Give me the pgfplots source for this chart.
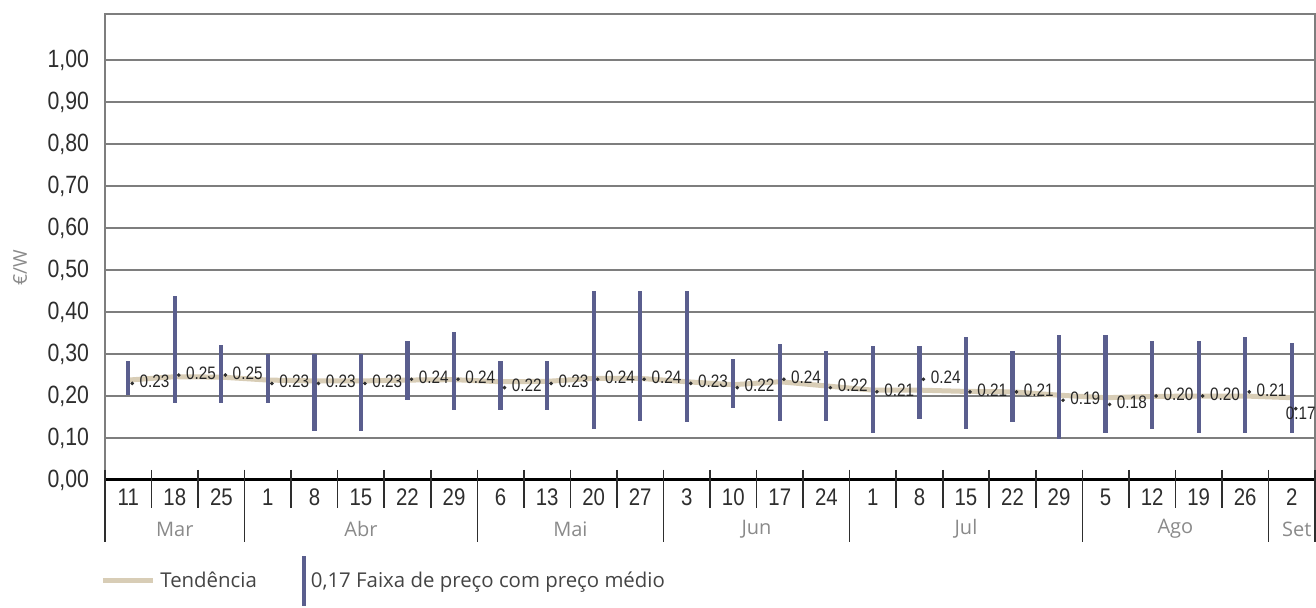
\documentclass[border=0pt]{standalone}
\usepackage{pgfplots}
\pgfplotsset{compat=1.18}
\usepackage{pgfplotstable}
\usepackage{fontspec}
\setmainfont{Open Sans}
\newfontfamily\tickfont[FakeStretch=0.85]{Liberation Sans}

\definecolor{gridc}{HTML}{7E7E7E}
\definecolor{barc}{HTML}{5A5E8E}
\definecolor{trendc}{HTML}{D8CDB6}
\definecolor{ticktext}{HTML}{2E2E2E}
\definecolor{monthc}{HTML}{8A8A8A}
\definecolor{legtext}{HTML}{444444}

% week index, mean price, low, high (EUR/W)
\pgfplotstableread{
x  mean lo    hi
0  0.23 0.202 0.283
1  0.25 0.183 0.439
2  0.25 0.183 0.321
3  0.23 0.183 0.300
4  0.23 0.117 0.300
5  0.23 0.117 0.300
6  0.24 0.191 0.330
7  0.24 0.167 0.353
8  0.22 0.167 0.283
9  0.23 0.167 0.283
10 0.24 0.121 0.450
11 0.24 0.141 0.450
12 0.23 0.138 0.450
13 0.22 0.171 0.288
14 0.24 0.141 0.324
15 0.22 0.141 0.308
16 0.21 0.113 0.320
17 0.24 0.145 0.320
18 0.21 0.121 0.340
19 0.21 0.138 0.308
20 0.19 0.098 0.345
21 0.18 0.112 0.345
22 0.20 0.121 0.330
23 0.20 0.112 0.330
24 0.21 0.112 0.340
25 0.17 0.112 0.326
}\prices

% trend line
\pgfplotstableread{
x  t
0  0.238
1  0.246
2  0.245
3  0.238
4  0.236
5  0.236
6  0.238
7  0.239
8  0.234
9  0.235
10 0.242
11 0.242
12 0.234
13 0.227
14 0.234
15 0.224
16 0.214
17 0.214
18 0.211
19 0.210
20 0.202
21 0.196
22 0.199
23 0.200
24 0.200
25 0.196
}\trend

\begin{document}
\begin{tikzpicture}
\begin{axis}[
    scale only axis,
    width=605pt, height=233pt,
    xmin=-0.5, xmax=25.5,
    ymin=0, ymax=1.11,
    clip=false,
    axis line style={draw=gridc, line width=1.2pt},
    ytick={0,0.1,0.2,0.3,0.4,0.5,0.6,0.7,0.8,0.9,1.0},
    ymajorgrids,
    grid style={draw=gridc, line width=1.2pt},
    major tick length=0pt,
    yticklabel style={
        /pgf/number format/.cd, fixed, fixed zerofill, precision=2, use comma, assume math mode=true,
        /tikz/.cd, font=\tickfont\fontsize{12.5}{12.5}\selectfont, text=ticktext, xshift=-4.5pt},
    xtick={0,...,25},
    xticklabels={11,18,25,1,8,15,22,29,6,13,20,27,3,10,17,24,1,8,15,22,29,5,12,19,26,2},
    xticklabel style={anchor=center, yshift=-8.5pt,
        font=\tickfont\fontsize{12}{12}\selectfont, text=ticktext},
    ylabel={€/W},
    ylabel style={at={(axis description cs:-0.0702,0.455)}, anchor=center,
        font=\fontsize{9.5}{9.5}\selectfont, text=monthc},
    legend columns=2,
    legend cell align=left,
    legend style={at={(axis description cs:0,0)}, anchor=west, xshift=-2.5pt, yshift=-50.5pt,
        draw=none, fill=none, inner sep=0pt,
        font=\fontsize{10.2}{10.2}\selectfont, text=legtext,
        nodes={inner sep=2.5pt},
        /tikz/every even column/.append style={column sep=20pt}},
]

% trend
\addplot[trendc, line width=2.5pt, mark=none,
    legend image code/.code={\draw[trendc, line width=2.5pt] (0pt,0pt) -- (25pt,0pt);}]
    table[x=x, y=t] {\trend};
\addlegendentry{Tendência}

% price ranges
\addplot[draw=none, mark=none,
    legend image code/.code={\draw[barc, line width=2pt] (0pt,-12.5pt) -- (0pt,12.5pt);},
    error bars/.cd, y dir=both, y explicit, error mark=none,
    error bar style={draw=barc, line width=2.1pt}]
    table[x=x, y=mean,
          y error plus expr=\thisrow{hi}-\thisrow{mean},
          y error minus expr=\thisrow{mean}-\thisrow{lo}] {\prices};
\addlegendentry{0,17 Faixa de preço com preço médio}

% average labels
\addplot[forget plot, only marks, mark=*, mark size=0.7pt, color=ticktext,
    every mark/.append style={xshift=2pt},
    restrict x to domain=0:24,
    point meta=explicit,
    nodes near coords={\pgfmathprintnumber[fixed,fixed zerofill,precision=2,assume math mode=true]{\pgfplotspointmeta}},
    every node near coord/.append style={anchor=west, inner sep=0pt, xshift=3.5pt, yshift=1pt,
        font=\tickfont\fontsize{9}{9}\selectfont, text=black!85}]
    table[x=x, y=mean, meta=mean] {\prices};
\addplot[forget plot, only marks, mark=*, mark size=0.7pt, color=ticktext,
    every mark/.append style={xshift=2pt},
    restrict x to domain=25:25,
    point meta=explicit,
    nodes near coords={\pgfmathprintnumber[fixed,fixed zerofill,precision=2,assume math mode=true]{\pgfplotspointmeta}},
    every node near coord/.append style={anchor=center, inner sep=0pt, xshift=2.5pt, yshift=-2.5pt,
        font=\tickfont\fontsize{9}{9}\selectfont, text=black!85}]
    table[x=x, y=mean, meta=mean] {\prices};

% x axis, week and month separators
\draw[black, line width=1.5pt] (axis cs:-0.5,0) -- (axis cs:25.5,0);
\pgfplotsinvokeforeach{0.5,1.5,...,23.5}{
    \draw[ticktext, line width=0.8pt] ([yshift=5pt]axis cs:#1,0) -- ([yshift=-14pt]axis cs:#1,0);
}
\pgfplotsinvokeforeach{-0.5,2.5,7.5,11.5,15.5,20.5,24.5,25.5}{
    \draw[ticktext, line width=0.8pt] ([yshift=5pt]axis cs:#1,0) -- ([yshift=-31pt]axis cs:#1,0);
}
\node[text=monthc, font=\fontsize{10}{10}\selectfont] at ([yshift=-24.5pt]axis cs:1,0) {Mar};
\node[text=monthc, font=\fontsize{10}{10}\selectfont] at ([yshift=-24.5pt]axis cs:5,0) {Abr};
\node[text=monthc, font=\fontsize{10}{10}\selectfont] at ([yshift=-24.5pt]axis cs:9.5,0) {Mai};
\node[text=monthc, font=\fontsize{10}{10}\selectfont] at ([yshift=-24.5pt]axis cs:13.5,0) {Jun};
\node[text=monthc, font=\fontsize{10}{10}\selectfont] at ([yshift=-24.5pt]axis cs:18,0) {Jul};
\node[text=monthc, font=\fontsize{10}{10}\selectfont] at ([yshift=-24.5pt]axis cs:22.5,0) {Ago};
\node[text=monthc, font=\fontsize{10}{10}\selectfont] at ([yshift=-24.5pt,xshift=2.5pt]axis cs:25,0) {Set};

\coordinate (bl) at (rel axis cs:0,0);
\end{axis}
\pgfresetboundingbox
\path (bl) ++(-52.5pt,-64pt) rectangle ++(658pt,304pt);
\end{tikzpicture}
\end{document}
